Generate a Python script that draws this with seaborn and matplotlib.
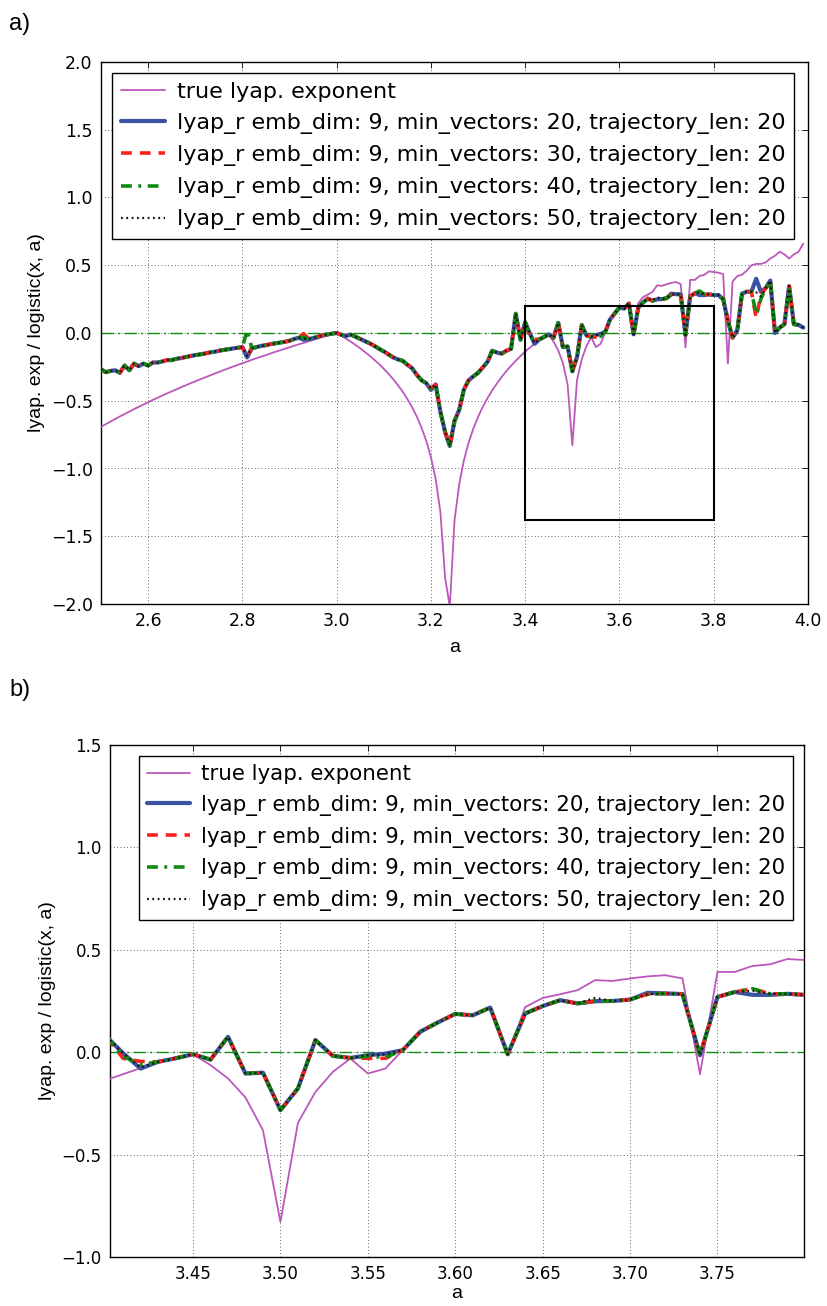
import numpy as np
import pandas as pd
import matplotlib
matplotlib.use("Agg")
import matplotlib.pyplot as plt
from matplotlib.patches import Rectangle
import seaborn as sns

# ---------------- data ----------------
a_start, a_stop, a_step = 2.50, 4.00, 0.01
a_vals = np.round(np.arange(a_start, a_stop - 1e-9, a_step), 2)

true_lyap = [
    -0.693, -0.673, -0.654, -0.635, -0.616, -0.598, -0.580, -0.562, -0.545, -0.528,
    -0.511, -0.494, -0.478, -0.462, -0.446, -0.431, -0.416, -0.400, -0.386, -0.371,
    -0.357, -0.342, -0.329, -0.315, -0.301, -0.288, -0.274, -0.261, -0.248, -0.236,
    -0.223, -0.211, -0.198, -0.186, -0.174, -0.163, -0.151, -0.139, -0.128, -0.117,
    -0.105, -0.094, -0.083, -0.073, -0.062, -0.051, -0.041, -0.030, -0.020, -0.010,
    -0.003, -0.021, -0.042, -0.064, -0.088, -0.113, -0.140, -0.168, -0.198, -0.229,
    -0.264, -0.301, -0.341, -0.385, -0.433, -0.487, -0.548, -0.617, -0.698, -0.795,
    -0.916, -1.077, -1.318, -1.804, -2.020, -1.386, -1.115, -0.939, -0.809, -0.705,
    -0.619, -0.545, -0.481, -0.423, -0.372, -0.325, -0.281, -0.242, -0.204, -0.170,
    -0.137, -0.107, -0.078, -0.050, -0.024, -0.010, -0.063, -0.128, -0.221, -0.381,
    -0.829, -0.345, -0.194, -0.096, -0.031, -0.104, -0.080, 0.010, 0.095, 0.145,
    0.185, 0.178, 0.215, -0.015, 0.220, 0.265, 0.283, 0.303, 0.352, 0.348,
    0.360, 0.370, 0.376, 0.360, -0.107, 0.392, 0.392, 0.421, 0.429, 0.455,
    0.450, 0.445, 0.435, -0.226, 0.380, 0.420, 0.430, 0.460, 0.500, 0.510,
    0.510, 0.520, 0.550, 0.570, 0.600, 0.580, 0.550, 0.580, 0.600, 0.660,
]

lyap_r_mv20 = [
    -0.267, -0.289, -0.280, -0.275, -0.294, -0.240, -0.275, -0.226, -0.245, -0.226,
    -0.240, -0.218, -0.218, -0.210, -0.200, -0.200, -0.190, -0.185, -0.177, -0.170,
    -0.163, -0.158, -0.152, -0.144, -0.139, -0.131, -0.125, -0.120, -0.114, -0.109,
    -0.104, -0.180, -0.112, -0.104, -0.095, -0.090, -0.082, -0.076, -0.071, -0.065,
    -0.057, -0.044, -0.035, -0.050, -0.045, -0.038, -0.027, -0.016, -0.011, -0.005,
    0.000, -0.014, -0.022, -0.012, -0.027, -0.044, -0.060, -0.076, -0.095, -0.117,
    -0.136, -0.158, -0.180, -0.195, -0.205, -0.234, -0.260, -0.308, -0.349, -0.370,
    -0.420, -0.380, -0.580, -0.730, -0.834, -0.650, -0.567, -0.417, -0.349, -0.320,
    -0.294, -0.253, -0.213, -0.131, -0.144, -0.152, -0.131, -0.117, 0.142, -0.050,
    0.080, -0.005, -0.080, -0.047, -0.030, -0.010, -0.036, 0.075, -0.104, -0.100,
    -0.283, -0.177, 0.059, -0.018, -0.028, -0.015, -0.007, 0.010, 0.100, 0.145,
    0.187, 0.180, 0.218, -0.010, 0.189, 0.225, 0.254, 0.238, 0.249, 0.250,
    0.257, 0.290, 0.287, 0.284, -0.015, 0.270, 0.294, 0.280, 0.280, 0.285,
    0.280, 0.280, 0.250, 0.090, -0.035, 0.020, 0.290, 0.305, 0.305, 0.400,
    0.305, 0.330, 0.387, 0.000, 0.040, 0.065, 0.346, 0.065, 0.060, 0.040,
]

lyap_r_mv30 = [
    -0.267, -0.289, -0.280, -0.275, -0.294, -0.240, -0.275, -0.226, -0.245, -0.226,
    -0.240, -0.218, -0.218, -0.210, -0.200, -0.200, -0.190, -0.185, -0.177, -0.170,
    -0.163, -0.158, -0.152, -0.144, -0.139, -0.131, -0.125, -0.120, -0.114, -0.109,
    -0.104, -0.170, -0.112, -0.104, -0.095, -0.090, -0.082, -0.076, -0.071, -0.065,
    -0.057, -0.044, -0.030, -0.005, -0.040, -0.038, -0.027, -0.016, -0.011, -0.005,
    0.000, -0.014, -0.022, -0.012, -0.027, -0.044, -0.060, -0.076, -0.095, -0.117,
    -0.136, -0.158, -0.180, -0.195, -0.205, -0.234, -0.260, -0.308, -0.349, -0.370,
    -0.410, -0.380, -0.580, -0.730, -0.830, -0.650, -0.567, -0.417, -0.349, -0.320,
    -0.294, -0.253, -0.213, -0.131, -0.144, -0.152, -0.131, -0.117, 0.142, -0.050,
    0.080, -0.030, -0.045, -0.047, -0.030, -0.010, -0.036, 0.075, -0.104, -0.100,
    -0.283, -0.177, 0.059, -0.018, -0.028, -0.030, -0.030, 0.010, 0.100, 0.145,
    0.187, 0.180, 0.218, -0.010, 0.189, 0.225, 0.254, 0.238, 0.249, 0.250,
    0.257, 0.283, 0.287, 0.284, -0.015, 0.270, 0.294, 0.310, 0.285, 0.285,
    0.280, 0.280, 0.250, 0.090, -0.035, 0.020, 0.290, 0.305, 0.305, 0.110,
    0.280, 0.330, 0.387, 0.000, 0.040, 0.065, 0.346, 0.065, 0.060, 0.040,
]

lyap_r_mv40 = [
    -0.267, -0.289, -0.280, -0.275, -0.294, -0.240, -0.275, -0.226, -0.245, -0.226,
    -0.240, -0.218, -0.218, -0.210, -0.200, -0.200, -0.190, -0.185, -0.177, -0.170,
    -0.163, -0.158, -0.152, -0.144, -0.139, -0.131, -0.125, -0.120, -0.114, -0.109,
    -0.104, 0.020, -0.112, -0.104, -0.095, -0.090, -0.082, -0.076, -0.071, -0.065,
    -0.057, -0.044, -0.035, -0.030, -0.045, -0.038, -0.027, -0.016, -0.011, -0.005,
    0.000, -0.014, -0.022, -0.012, -0.027, -0.044, -0.060, -0.076, -0.095, -0.117,
    -0.136, -0.158, -0.180, -0.195, -0.205, -0.234, -0.260, -0.308, -0.349, -0.370,
    -0.410, -0.380, -0.580, -0.730, -0.830, -0.650, -0.567, -0.417, -0.349, -0.320,
    -0.294, -0.253, -0.213, -0.131, -0.144, -0.152, -0.131, -0.117, 0.142, -0.050,
    0.080, -0.020, -0.060, -0.047, -0.030, -0.010, -0.036, 0.075, -0.104, -0.100,
    -0.283, -0.177, 0.059, -0.018, -0.028, -0.020, -0.025, 0.010, 0.100, 0.145,
    0.187, 0.180, 0.218, -0.010, 0.189, 0.225, 0.254, 0.238, 0.249, 0.250,
    0.257, 0.283, 0.287, 0.284, -0.015, 0.270, 0.294, 0.310, 0.285, 0.285,
    0.280, 0.280, 0.250, 0.090, -0.035, 0.020, 0.290, 0.305, 0.305, 0.140,
    0.250, 0.330, 0.387, 0.000, 0.040, 0.065, 0.346, 0.065, 0.060, 0.040,
]

lyap_r_mv50 = [
    -0.267, -0.289, -0.280, -0.275, -0.294, -0.240, -0.275, -0.226, -0.245, -0.226,
    -0.240, -0.218, -0.218, -0.210, -0.200, -0.200, -0.190, -0.185, -0.177, -0.170,
    -0.163, -0.158, -0.152, -0.144, -0.139, -0.131, -0.125, -0.120, -0.114, -0.109,
    -0.104, -0.170, -0.112, -0.104, -0.095, -0.090, -0.082, -0.076, -0.071, -0.065,
    -0.057, -0.044, -0.035, -0.040, -0.045, -0.038, -0.027, -0.016, -0.011, -0.005,
    0.000, -0.014, -0.022, -0.012, -0.027, -0.044, -0.060, -0.076, -0.095, -0.117,
    -0.136, -0.158, -0.180, -0.195, -0.205, -0.234, -0.260, -0.308, -0.349, -0.370,
    -0.410, -0.380, -0.580, -0.730, -0.830, -0.650, -0.567, -0.417, -0.349, -0.320,
    -0.294, -0.253, -0.213, -0.131, -0.144, -0.152, -0.131, -0.117, 0.142, -0.050,
    0.080, -0.005, -0.075, -0.047, -0.030, -0.010, -0.036, 0.075, -0.104, -0.100,
    -0.283, -0.177, 0.059, -0.018, -0.028, -0.015, -0.010, 0.010, 0.100, 0.145,
    0.187, 0.180, 0.218, -0.010, 0.189, 0.225, 0.254, 0.238, 0.265, 0.250,
    0.257, 0.283, 0.287, 0.284, -0.015, 0.270, 0.294, 0.300, 0.285, 0.285,
    0.280, 0.280, 0.250, 0.090, -0.035, 0.020, 0.290, 0.305, 0.305, 0.300,
    0.270, 0.330, 0.387, 0.000, 0.040, 0.065, 0.346, 0.065, 0.060, 0.040,
]

series_labels = [
    "true lyap. exponent",
    "lyap_r emb_dim: 9, min_vectors: 20, trajectory_len: 20",
    "lyap_r emb_dim: 9, min_vectors: 30, trajectory_len: 20",
    "lyap_r emb_dim: 9, min_vectors: 40, trajectory_len: 20",
    "lyap_r emb_dim: 9, min_vectors: 50, trajectory_len: 20",
]
series_values = [true_lyap, lyap_r_mv20, lyap_r_mv30, lyap_r_mv40, lyap_r_mv50]

zoom_x = (3.4, 3.8)
zoom_y = (-1.38, 0.2)

top_xticks = [2.6, 2.8, 3.0, 3.2, 3.4, 3.6, 3.8, 4.0]
top_yticks = [-2.0, -1.5, -1.0, -0.5, 0.0, 0.5, 1.0, 1.5, 2.0]
bot_xticks = [3.45, 3.50, 3.55, 3.60, 3.65, 3.70, 3.75]
bot_yticks = [-1.0, -0.5, 0.0, 0.5, 1.0, 1.5]

# ---------------- style ----------------
sns.set_style("white")
plt.rcParams.update({
    "font.family": ["DejaVu Sans"],
    "xtick.direction": "in", "ytick.direction": "in",
    "xtick.top": True, "ytick.right": True,
    "xtick.major.size": 4, "ytick.major.size": 4,
    "xtick.major.width": 0.6, "ytick.major.width": 0.6,
    "xtick.color": "black", "ytick.color": "black",
    "axes.edgecolor": "black", "axes.linewidth": 1.0,
    "axes.labelcolor": "black", "text.color": "black",
})

styles = [
    dict(color="#b84fb8", lw=1.3, linestyle="-", alpha=0.95),
    dict(color="#3a52a4", lw=3.0, linestyle="-"),
    dict(color="#ff2020", lw=2.6, linestyle=(0, (3.0, 2.2))),
    dict(color="#108a10", lw=2.6, linestyle=(0, (3.0, 1.8, 0.8, 1.8))),
    dict(color="#101010", lw=1.6, linestyle=(0, (0.8, 1.6))),
]

df = pd.DataFrame({"a": a_vals})
for lab, vals in zip(series_labels, series_values):
    df[lab] = vals

fig = plt.figure(figsize=(8.27, 13.06), dpi=100)
W, H = 827.0, 1306.0
ax1 = fig.add_axes([101 / W, 1 - 604 / H, 707 / W, 542 / H])
ax2 = fig.add_axes([110 / W, 1 - 1257 / H, 694 / W, 512 / H])

label_font = ["Liberation Sans", "DejaVu Sans"]


def draw(ax, legend_fs, loc, tick_fs, xpad):
    ax.axhline(0, color="#108a10", lw=1.0, linestyle=(0, (9, 3, 1.5, 3)), zorder=1)
    for lab, st in zip(series_labels, styles):
        sns.lineplot(data=df, x="a", y=lab, ax=ax, label=lab, zorder=3, **st)
    ax.grid(True, color="black", linestyle=(0, (1, 3)), linewidth=0.6, alpha=0.8)
    ax.set_axisbelow(True)
    for s in ax.spines.values():
        s.set_visible(True)
        s.set_color("black")
        s.set_linewidth(1.0)
    ax.tick_params(labelsize=tick_fs, pad=6)
    ax.set_xlabel("a", fontsize=14, family=label_font, labelpad=xpad)
    ax.set_ylabel("lyap. exp / logistic(x, a)", fontsize=14, family=label_font)
    leg = ax.legend(loc=loc, fontsize=legend_fs, frameon=True, fancybox=False,
                    framealpha=1.0, edgecolor="black", handlelength=2.0,
                    handletextpad=0.5, labelspacing=0.5, borderpad=0.4,
                    borderaxespad=0.5)
    leg.get_frame().set_linewidth(1.0)
    return leg


draw(ax1, 16, "upper left", 12.5, 6)
ax1.set_xlim(2.5, 4.0)
ax1.set_ylim(-2.0, 2.0)
ax1.set_xticks(top_xticks)
ax1.set_yticks(top_yticks)
ax1.add_patch(Rectangle((zoom_x[0], zoom_y[0]), zoom_x[1] - zoom_x[0],
                        zoom_y[1] - zoom_y[0], fill=False, edgecolor="black",
                        lw=1.5, zorder=5))

draw(ax2, 15.4, "upper right", 12, 1)
ax2.set_xlim(3.4025, 3.7995)
ax2.set_ylim(-1.0, 1.5)
ax2.set_xticks(bot_xticks)
ax2.set_yticks(bot_yticks)

fig.text(9 / W, 1 - 30 / H, "a)", fontsize=17, family=label_font, va="baseline")
fig.text(9 / W, 1 - 696 / H, "b)", fontsize=17, family=label_font, va="baseline")

fig.savefig("out.png", dpi=100, facecolor="white")
